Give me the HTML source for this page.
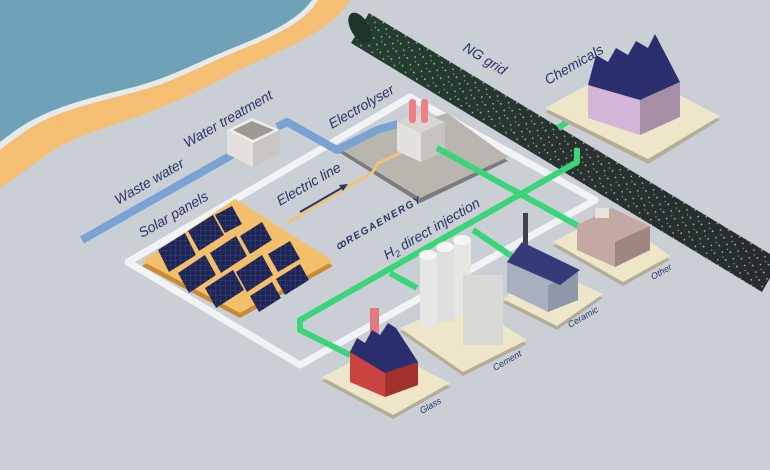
<!DOCTYPE html>
<html><head><style>
html,body{margin:0;padding:0;background:#c9cfd5;}
svg{display:block}
text{font-family:"Liberation Sans",sans-serif;fill:#2a3566;font-style:italic}
</style></head><body>
<svg width="770" height="470" viewBox="0 0 770 470" xmlns="http://www.w3.org/2000/svg">
<defs>
<pattern id="cells" width="5" height="5" patternUnits="userSpaceOnUse">
<rect width="5" height="5" fill="#1d2456"/><path d="M0 0H5M0 0V5" stroke="#5a6090" stroke-width="0.5"/>
</pattern>
<pattern id="dots" width="13" height="9" patternUnits="userSpaceOnUse" patternTransform="rotate(31)">
<circle cx="2" cy="2" r="0.9" fill="#9ff5c0"/><circle cx="8" cy="6" r="0.8" fill="#d8f5e5"/><circle cx="11" cy="1" r="0.6" fill="#9ff5c0"/>
</pattern>
<linearGradient id="pg" x1="0" y1="0" x2="1" y2="0">
<stop offset="0" stop-color="#24402f"/><stop offset="0.45" stop-color="#2a3331"/><stop offset="1" stop-color="#282b2e"/>
</linearGradient>
</defs>
<rect width="770" height="470" fill="#c9cfd5"/>
<path d="M0 0 H350 C335 25 305 40 265 58 C225 76 200 92 160 108 C110 128 70 135 40 160 C25 170 12 180 0 188 Z" fill="#f4bf72"/>
<path d="M0 0 H318 C305 22 275 36 240 50 C200 66 175 82 135 92 C90 104 50 112 20 135 C10 142 4 147 0 150 Z" fill="#e6eaed"/>
<path d="M0 0 H312 C298 20 270 33 235 47 C195 63 170 78 130 88 C85 99 48 108 16 130 L0 142 Z" fill="#6fa2b6"/>
<path d="M128 262 L410 97 L595 200 L300 365 Z" fill="none" stroke="#f1f3f4" stroke-width="7" stroke-linejoin="round"/>
<!-- NG grid pipe -->
<polygon points="369,13 780,260 762,292 351,43" fill="url(#pg)"/>
<polygon points="369,13 780,260 762,292 351,43" fill="url(#dots)" opacity="0.8"/>
<ellipse cx="360" cy="28" rx="9" ry="17" fill="#1c3527" transform="rotate(-31 360 28)"/>
<polygon points="337,151 447,117 508,161 420,203" fill="#7b7d7c"/>
<polygon points="337,147 447,113 508,157 420,198" fill="#b9b6b0"/>
<path d="M82 240 L237 152" stroke="#7aa3d3" stroke-width="8" fill="none"/>
<path d="M277 127 L287 122 L337 150 L377 130 L398 124" stroke="#7aa3d3" stroke-width="8" fill="none" stroke-linejoin="round"/>
<path d="M287 223 L372 173 L378 163 L403 152" stroke="#f2c27a" stroke-width="3" fill="none"/>
<polygon points="227,130 252,118 280,130 253,143" fill="#eeede9"/>
<polygon points="233,130 252,121 274,130 253,140" fill="#9d9a93"/>
<polygon points="227,130 253,143 253,167 227,154" fill="#e3e1dc"/>
<polygon points="253,143 280,130 280,154 253,167" fill="#c9c6c1"/>
<polygon points="397,122 421,112 445,122 421,133" fill="#d8d6d2"/>
<polygon points="397,122 421,133 421,162 397,151" fill="#e4e2de"/>
<polygon points="421,133 445,122 445,151 421,162" fill="#c7c4bf"/>
<rect x="409" y="99" width="7" height="24" rx="3" fill="#ef7f86"/>
<rect x="421" y="99" width="7" height="24" rx="3" fill="#ef7f86"/>
<polygon points="142,266 235,204 333,266 240,318" fill="#c98b35"/>
<polygon points="142,261 235,199 333,261 240,313" fill="#f3bf6b"/>
<g fill="url(#cells)">
<polygon points="158,250 185,233 196,255 169,272"/>
<polygon points="188,231 213,215 224,235 199,251"/>
<polygon points="215,215 232,206 242,224 225,233"/>
<polygon points="178,273 205,255 216,275 189,293"/>
<polygon points="210,253 236,236 247,256 221,273"/>
<polygon points="240,236 262,222 272,240 250,254"/>
<polygon points="200,293 228,275 239,295 211,313" transform="translate(5 -5)"/>
<polygon points="236,272 262,255 273,275 247,292"/>
<polygon points="268,254 290,241 300,259 278,272"/>
<polygon points="250,296 272,282 281,298 259,312"/>
<polygon points="276,279 300,264 309,280 285,295"/>
</g>
<g stroke="#3bd579" stroke-width="6" fill="none" stroke-linejoin="round">
<path d="M350 355 L300 330 L300 320 L577 162 L577 148"/>
<path d="M437 148 L600 238"/>
<path d="M390 273 L417 288"/>
<path d="M473 230 L513 257"/>
<path d="M558 128 L593 105"/>
</g>
<polygon points="545,112 622,70 720,120 648,164" fill="#b5ad98"/>
<polygon points="545,108 622,66 720,116 648,159" fill="#ede6c9"/>
<polygon points="588,85 640,100 640,135 588,118" fill="#d6b6d8"/>
<polygon points="640,100 680,82 680,117 640,135" fill="#a88fa8"/>
<polygon points="588,85 596,55 608,62 616,48 628,55 636,41 648,48 655,34 680,82 640,100" fill="#2c2f6e"/>
<polygon points="553,246 610,216 670,260 623,286" fill="#b5ad98"/>
<polygon points="553,242 610,212 670,256 623,282" fill="#ede6c9"/>
<polygon points="577,225 612,208 650,226 650,250 615,267 577,250" fill="#c4a9a2"/>
<polygon points="615,242 650,226 650,250 615,267" fill="#9f8680"/>
<rect x="595" y="208" width="14" height="10" fill="#e8e3da"/>
<polygon points="503,303 543,270 603,298 557,330" fill="#b5ad98"/>
<polygon points="503,299 543,266 603,294 557,326" fill="#ede6c9"/>
<rect x="523" y="213" width="5" height="35" fill="#3e4248"/>
<polygon points="507,262 525,248 578,275 578,300 548,312 507,292" fill="#a8b0bf"/>
<polygon points="548,285 578,272 578,300 548,312" fill="#8f98a8"/>
<polygon points="507,262 522,242 580,270 560,285" fill="#363a78"/>
<polygon points="400,332 463,304 527,344 463,376" fill="#b5ad98"/>
<polygon points="400,328 463,300 527,340 463,372" fill="#ede6c9"/>
<rect x="420" y="255" width="17" height="72" fill="#e6e6e4"/>
<rect x="437" y="247" width="17" height="75" fill="#dededb"/>
<rect x="454" y="240" width="17" height="75" fill="#e6e6e4"/>
<rect x="463" y="275" width="40" height="70" fill="#d9d9d6"/>
<ellipse cx="428" cy="255" rx="9" ry="5" fill="#f6f6f5"/>
<ellipse cx="445" cy="247" rx="9" ry="5" fill="#f6f6f5"/>
<ellipse cx="462" cy="240" rx="9" ry="5" fill="#f6f6f5"/>
<polygon points="322,381 380,351 450,387 393,419" fill="#b5ad98"/>
<polygon points="322,377 380,347 450,383 393,415" fill="#ede6c9"/>
<rect x="370" y="308" width="9" height="35" fill="#e07a7e"/>
<polygon points="350,352 373,342 418,362 418,385 385,397 350,382" fill="#c9433f"/>
<polygon points="385,373 418,362 418,385 385,397" fill="#a2302d"/>
<polygon points="350,352 357,338 365,343 372,330 380,335 388,323 396,328 418,362 385,373" fill="#2c2f6e"/>
<text transform="translate(118 205) rotate(-30)" font-size="14">Waste water</text>
<text transform="translate(187 148) rotate(-30)" font-size="14">Water treatment</text>
<text transform="translate(142 238) rotate(-30)" font-size="14">Solar panels</text>
<text transform="translate(280 206) rotate(-30)" font-size="14">Electric line</text>
<path d="M300 212 L345 186" stroke="#2a3566" stroke-width="2"/><polygon points="348,184 339,185 343,191" fill="#2a3566"/>
<text transform="translate(332 129) rotate(-30)" font-size="14">Electrolyser</text>
<text transform="translate(462 50) rotate(32)" font-size="14" font-style="normal">NG grid</text>
<text transform="translate(548 85) rotate(-30)" font-size="14">Chemicals</text>
<text transform="translate(387 260) rotate(-30)" font-size="14">H<tspan font-size="9" dy="3">2</tspan><tspan dy="-3"> direct injection</tspan></text>
<text transform="translate(338 250) rotate(-30)" font-size="10" font-weight="bold" font-style="normal" letter-spacing="1.5">ꝏREGAENERGY</text>
<text transform="translate(653 280) rotate(-30)" font-size="9">Other</text>
<text transform="translate(570 328) rotate(-30)" font-size="9">Ceramic</text>
<text transform="translate(495 371) rotate(-30)" font-size="9">Cement</text>
<text transform="translate(422 414) rotate(-30)" font-size="9">Glass</text>
</svg>
</body></html>
